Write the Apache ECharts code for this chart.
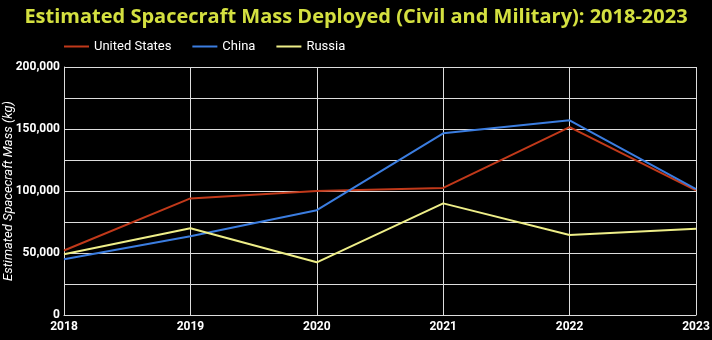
<!DOCTYPE html>
<html>
<head>
<meta charset="utf-8">
<script src="https://cdn.jsdelivr.net/npm/echarts@6/dist/echarts.min.js"></script>
<style>html,body{margin:0;padding:0;background:#000;}#c{width:712px;height:340px;}</style>
</head>
<body>
<div id="c"></div>
<script>
const years = ['2018','2019','2020','2021','2022','2023'];
const usValues = [52000, 94000, 100000, 102500, 151500, 100500];
const chinaValues = [45000, 63500, 84500, 146500, 157000, 101500];
const russiaValues = [49000, 70000, 42500, 90000, 64500, 69500];
const seriesNames = ['United States', 'China', 'Russia'];
const colors = ['#c1391a', '#3b7de0', '#eeee88'];

const chart = echarts.init(document.getElementById('c'));
chart.setOption({
  backgroundColor: '#000',
  animation: false,
  color: colors,
  title: {
    text: 'Estimated Spacecraft Mass Deployed (Civil and Military): 2018-2023',
    left: 'center', top: 2,
    textStyle: { color: '#d4e040', fontFamily: 'Open Sans', fontWeight: 'bold', fontSize: 20 }
  },
  legend: {
    left: 59, top: 35,
    itemWidth: 25, itemHeight: 2, itemGap: 21,
    icon: 'rect',
    textStyle: { color: '#fff', fontFamily: 'Roboto', fontSize: 13 },
    data: seriesNames
  },
  grid: { left: 64, right: 16, top: 67, bottom: 25, outerBoundsMode: 'none', containLabel: false },
  xAxis: {
    type: 'category', data: years, boundaryGap: false,
    axisLine: { lineStyle: { color: '#ddd', width: 1 } },
    axisTick: { show: false },
    splitLine: { show: true, lineStyle: { color: '#ddd', width: 1 } },
    axisLabel: { color: '#fff', fontFamily: 'Roboto', fontWeight: 'bold', fontSize: 12, margin: 6 }
  },
  yAxis: {
    type: 'value', min: 0, max: 200000, interval: 25000,
    name: 'Estimated Spacecraft Mass (kg)', nameLocation: 'middle', nameGap: 49,
    nameMoveOverlap: false,
    nameTextStyle: { color: '#fff', fontFamily: 'Roboto', fontStyle: 'italic', fontSize: 13 },
    axisLine: { show: true, lineStyle: { color: '#ddd', width: 1 } },
    axisTick: { show: false },
    splitLine: { show: true, lineStyle: { color: '#ddd', width: 1 } },
    axisLabel: {
      color: '#fff', fontFamily: 'Roboto', fontWeight: 'bold', fontSize: 12, margin: 4,
      formatter: v => (v % 50000 === 0 ? v.toLocaleString('en-US') : '')
    }
  },
  series: [
    { name: seriesNames[0], type: 'line', data: usValues, symbol: 'none', lineStyle: { width: 2 } },
    { name: seriesNames[1], type: 'line', data: chinaValues, symbol: 'none', lineStyle: { width: 2 } },
    { name: seriesNames[2], type: 'line', data: russiaValues, symbol: 'none', lineStyle: { width: 2 } }
  ]
});
</script>
</body>
</html>
